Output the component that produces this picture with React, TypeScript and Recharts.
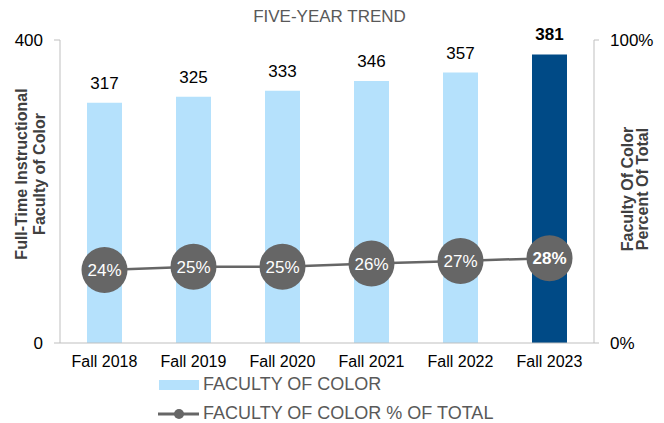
import React from 'react';
import { ComposedChart, Bar, Line, XAxis, YAxis, Cell, LabelList, Legend } from 'recharts';

const years = ['Fall 2018', 'Fall 2019', 'Fall 2020', 'Fall 2021', 'Fall 2022', 'Fall 2023'];
const facultyOfColor = [317, 325, 333, 346, 357, 381];
const percentOfTotal = [24.1, 25.2, 25.2, 26.2, 27.1, 28.0];
const leftTicks = [0, 400];
const rightTicks = [0, 100];

const FONT = '"Liberation Sans", Arial, sans-serif';
const LIGHT = '#b5e1fc';
const NAVY = '#004a86';
const GREY = '#666666';

const data = years.map((year, i) => ({
  year,
  count: facultyOfColor[i],
  pct: percentOfTotal[i],
}));

const lastIndex = years.length - 1;

// value label above each bar, last one bold
const BarValue = (props: any) => {
  const { x, y, width, value, index } = props;
  return (
    <text
      x={x + width / 2}
      y={y - 14}
      textAnchor="middle"
      fontSize={17}
      fontFamily={FONT}
      fontWeight={index === lastIndex ? 'bold' : 'normal'}
      fill="#000"
    >
      {value}
    </text>
  );
};

// percent inside the big grey dots
const DotValue = (props: any) => {
  const { x, y, value, index } = props;
  return (
    <text
      x={x}
      y={y + 6}
      textAnchor="middle"
      fontSize={17}
      fontFamily={FONT}
      fontWeight={index === lastIndex ? 'bold' : 'normal'}
      fill="#fff"
    >
      {Math.round(value)}%
    </text>
  );
};

const LeftTitle = () => (
  <text
    transform="translate(27,174) rotate(-90)"
    textAnchor="middle"
    fontSize={16}
    fontWeight="bold"
    fontFamily={FONT}
    fill="#404040"
  >
    <tspan x={0} y={0}>Full-Time Instructional</tspan>
    <tspan x={0} y={18}>Faculty of Color</tspan>
  </text>
);

const RightTitle = () => (
  <text
    transform="translate(633,189) rotate(-90)"
    textAnchor="middle"
    fontSize={16}
    fontWeight="bold"
    fontFamily={FONT}
    fill="#404040"
  >
    <tspan x={0} y={0}>Faculty Of Color</tspan>
    <tspan x={0} y={15}>Percent Of Total</tspan>
  </text>
);

const renderLegend = () => (
  <div style={{ fontFamily: FONT, fontSize: 18, color: '#595959', lineHeight: '29px', textAlign: 'left' }}>
    <div style={{ display: 'flex', alignItems: 'center' }}>
      <svg width={42} height={12} style={{ marginRight: 3 }}>
        <rect x={1} y={1} width={40} height={10} fill={LIGHT} />
      </svg>
      <span>FACULTY OF COLOR</span>
    </div>
    <div style={{ display: 'flex', alignItems: 'center' }}>
      <svg width={42} height={12} style={{ marginRight: 3 }}>
        <line x1={0} y1={6} x2={41} y2={6} stroke={GREY} strokeWidth={3} />
        <circle cx={21} cy={6} r={5} fill={GREY} />
      </svg>
      <span>FACULTY OF COLOR % OF TOTAL</span>
    </div>
  </div>
);

export default function App() {
  return (
    <div style={{ position: 'absolute', left: 0, top: 0, width: 664, height: 423, background: '#fff', fontFamily: FONT }}>
      <div
        style={{
          position: 'absolute',
          top: 7,
          left: 0,
          width: 659,
          textAlign: 'center',
          fontSize: 17,
          lineHeight: '20px',
          color: '#595959',
        }}
      >
        FIVE-YEAR TREND
      </div>
      <ComposedChart width={664} height={423} data={data} margin={{ top: 40, right: 0, bottom: 0, left: 0 }}>
        <XAxis
          dataKey="year"
          height={80}
          tickLine={false}
          tickSize={6}
          tickMargin={7}
          axisLine={{ stroke: '#bfbfbf' }}
          tick={{ fontSize: 16, fill: '#000', fontFamily: FONT }}
          interval={0}
        />
        <YAxis
          yAxisId="left"
          width={60}
          domain={[0, 400]}
          ticks={leftTicks}
          tickSize={6}
          tickMargin={11}
          axisLine={{ stroke: '#bfbfbf' }}
          tickLine={{ stroke: '#bfbfbf' }}
          tick={{ fontSize: 17, fill: '#000', fontFamily: FONT }}
          label={{ content: <LeftTitle /> }}
        />
        <YAxis
          yAxisId="right"
          orientation="right"
          width={70}
          domain={[0, 100]}
          ticks={rightTicks}
          tickSize={5}
          tickMargin={11}
          tickFormatter={(v: number) => `${v}%`}
          axisLine={{ stroke: '#bfbfbf' }}
          tickLine={{ stroke: '#bfbfbf' }}
          tick={{ fontSize: 17, fill: '#000', fontFamily: FONT }}
          label={{ content: <RightTitle /> }}
        />
        <Legend
          verticalAlign="middle"
          align="center"
          layout="horizontal"
          wrapperStyle={{ top: 370, left: 158, width: 420 }}
          content={renderLegend}
        />
        <Bar yAxisId="left" dataKey="count" barSize={35} isAnimationActive={false}>
          {data.map((d, i) => (
            <Cell key={d.year} fill={i === lastIndex ? NAVY : LIGHT} />
          ))}
          <LabelList dataKey="count" content={<BarValue />} />
        </Bar>
        <Line
          yAxisId="right"
          dataKey="pct"
          stroke={GREY}
          strokeWidth={2.5}
          dot={{ r: 23, fill: GREY, stroke: 'none' }}
          activeDot={false}
          isAnimationActive={false}
        >
          <LabelList dataKey="pct" content={<DotValue />} />
        </Line>
      </ComposedChart>
    </div>
  );
}
